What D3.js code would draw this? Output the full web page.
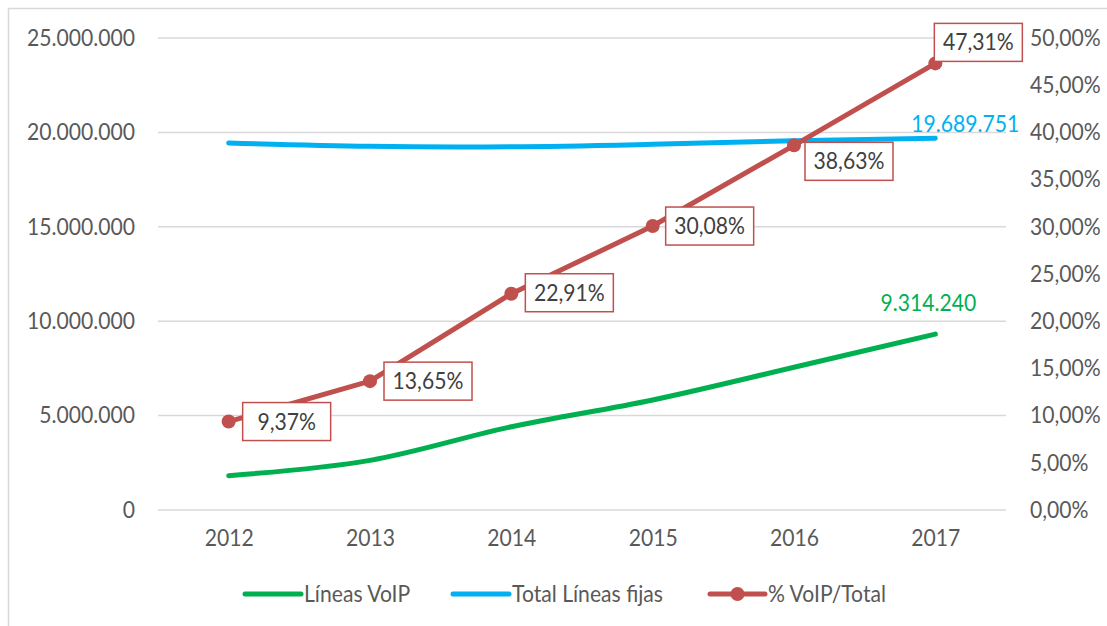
<!DOCTYPE html>
<html>
<head>
<meta charset="utf-8">
<script src="https://cdn.jsdelivr.net/npm/d3@7"></script>
<style>
  html, body { margin: 0; padding: 0; background: #fff; }
  svg { display: block; }
  text { font-family: Lato, "Open Sans", sans-serif; }
</style>
</head>
<body>
<svg id="chart" width="1107" height="626"></svg>
<script>
// ---- data ----
const years = ["2012", "2013", "2014", "2015", "2016", "2017"];
const lineasVoip = [1820000, 2630000, 4410000, 5830000, 7560000, 9314240];
const totalFijas = [19440000, 19260000, 19240000, 19370000, 19560000, 19689751];
const pctVoip = [9.37, 13.65, 22.91, 30.08, 38.63, 47.31];
const leftTicks = [0, 5000000, 10000000, 15000000, 20000000, 25000000];
const rightTicks = [0, 5, 10, 15, 20, 25, 30, 35, 40, 45, 50];
const seriesNames = ["Líneas VoIP", "Total Líneas fijas", "% VoIP/Total"];

// ---- layout (positions only) ----
const labelOffsets = [ // box left offset, box centre offset from the point
  [14, 0], [14, 0], [14, -1], [13, 0], [11, 16], [-1, -21]
];
const colors = { voip: "#00B050", total: "#00B0F0", pct: "#C0504D" };
const SX = 0.92; // horizontal squeeze, Calibri-like proportions
const FS = 23;
const FF = "Lato, 'Open Sans', sans-serif";

const svg = d3.select("#chart");
const pL = 158, pR = 1006, pT = 38, pB = 510;

svg.append("rect").attr("x", 8.5).attr("y", 8.5).attr("width", 1200).attr("height", 700)
  .attr("fill", "none").attr("stroke", "#D9D9D9").attr("stroke-width", 1.5);

const x = d3.scalePoint().domain(years).range([pL, pR]).padding(0.5);
const yL = d3.scaleLinear().domain([0, 25000000]).range([pB, pT]);
const yR = d3.scaleLinear().domain([0, 50]).range([pB, pT]);

const fmtL = v => d3.format(",")(v).replace(/,/g, ".");
const fmtR = v => d3.format(".2f")(v).replace(".", ",") + "%";

function txt(g, xx, yy, s, anchor, color, size) {
  return g.append("text")
    .attr("transform", `translate(${xx},${yy}) scale(${SX},1)`)
    .attr("text-anchor", anchor)
    .attr("dy", "0.35em")
    .attr("fill", color)
    .attr("font-size", size || FS)
    .text(s);
}

// gridlines
const grid = svg.append("g");
grid.selectAll("line").data(leftTicks).join("line")
  .attr("x1", pL).attr("x2", pR)
  .attr("y1", d => yL(d)).attr("y2", d => yL(d))
  .attr("stroke", "#D9D9D9").attr("stroke-width", 1.5);

// left axis
const axL = svg.append("g").attr("transform", `translate(${pL},0)`)
  .call(d3.axisLeft(yL).tickValues(leftTicks).tickFormat(fmtL).tickSize(0).tickPadding(23));
axL.select(".domain").remove();
axL.selectAll("text").attr("font-size", FS).attr("fill", "#595959")
  .attr("font-family", FF)
  .attr("transform", `scale(${SX},1)`).attr("x", -23 / SX);

// right axis
const axR = svg.append("g").attr("transform", `translate(${pR},0)`)
  .call(d3.axisRight(yR).tickValues(rightTicks).tickFormat(fmtR).tickSize(0).tickPadding(24));
axR.select(".domain").remove();
axR.selectAll("text").attr("font-size", FS).attr("fill", "#595959")
  .attr("font-family", FF)
  .attr("transform", `scale(${SX},1)`).attr("x", 24 / SX);

// x axis
const axX = svg.append("g").attr("transform", `translate(0,${pB})`)
  .call(d3.axisBottom(x).tickSize(0).tickPadding(20));
axX.select(".domain").remove();
axX.selectAll("text").attr("font-size", FS).attr("fill", "#595959")
  .attr("font-family", FF)
  .attr("transform", `scale(${SX},1)`);

// lines
const smooth = d3.curveCatmullRom.alpha(0.5);
const lineL = d3.line().x((d, i) => x(years[i])).y(d => yL(d)).curve(smooth);
const lineR = d3.line().x((d, i) => x(years[i])).y(d => yR(d));

svg.append("path").datum(totalFijas).attr("d", lineL)
  .attr("fill", "none").attr("stroke", colors.total).attr("stroke-width", 5).attr("stroke-linecap", "round");
svg.append("path").datum(lineasVoip).attr("d", lineL)
  .attr("fill", "none").attr("stroke", colors.voip).attr("stroke-width", 5).attr("stroke-linecap", "round");
svg.append("path").datum(pctVoip).attr("d", lineR)
  .attr("fill", "none").attr("stroke", colors.pct).attr("stroke-width", 5).attr("stroke-linejoin", "round");
svg.append("g").selectAll("circle").data(pctVoip).join("circle")
  .attr("cx", (d, i) => x(years[i])).attr("cy", d => yR(d)).attr("r", 7)
  .attr("fill", colors.pct);

// end labels
const lab = svg.append("g");
const last = years.length - 1;
txt(lab, x(years[last]) + 30, yL(totalFijas[last]) - 14, fmtL(totalFijas[last]), "middle", colors.total);
txt(lab, x(years[last]) - 7, yL(lineasVoip[last]) - 31, fmtL(lineasVoip[last]), "middle", colors.voip);

// percentage label boxes
const bw = 88, bh = 38;
pctVoip.forEach((v, i) => {
  const px = x(years[i]), py = yR(v);
  const bx = px + labelOffsets[i][0], cy = py + labelOffsets[i][1];
  lab.append("rect").attr("x", bx).attr("y", cy - bh / 2).attr("width", bw).attr("height", bh)
    .attr("fill", "#fff").attr("stroke", colors.pct).attr("stroke-width", 1.5);
  txt(lab, bx + bw / 2, cy, fmtR(v), "middle", "#404040");
});

// legend
const lg = svg.append("g");
const ly = 594;
const legendItems = [
  { name: seriesNames[0], color: colors.voip, x1: 245, x2: 301, tx: 304, marker: false },
  { name: seriesNames[1], color: colors.total, x1: 453, x2: 509, tx: 512, marker: false },
  { name: seriesNames[2], color: colors.pct, x1: 710, x2: 765, tx: 768, marker: true }
];
legendItems.forEach(it => {
  lg.append("line").attr("x1", it.x1).attr("x2", it.x2).attr("y1", ly).attr("y2", ly)
    .attr("stroke", it.color).attr("stroke-width", 5).attr("stroke-linecap", "round");
  if (it.marker) lg.append("circle").attr("cx", (it.x1 + it.x2) / 2).attr("cy", ly).attr("r", 7).attr("fill", it.color);
  txt(lg, it.tx, ly, it.name, "start", "#595959");
});
</script>
</body>
</html>
